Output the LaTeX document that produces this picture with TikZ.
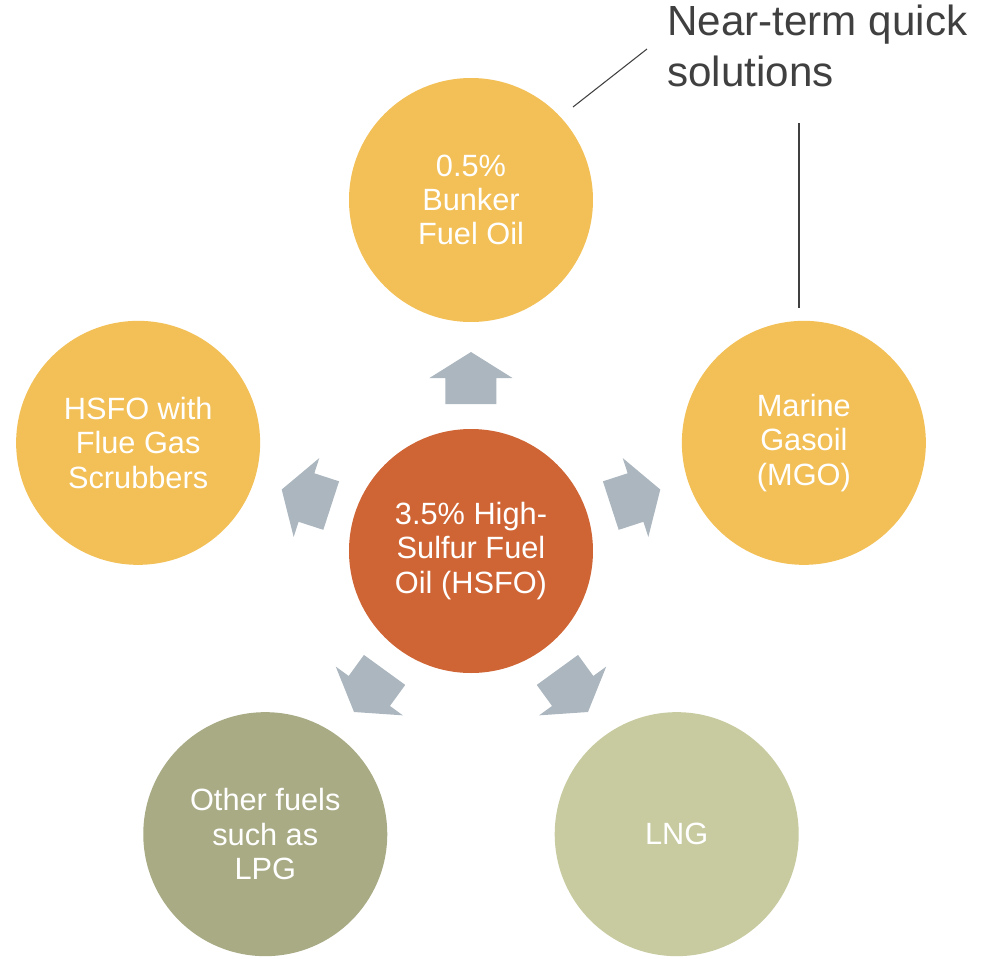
\documentclass[tikz,border=0pt]{standalone}
\usepackage{fontspec}
\setmainfont{Liberation Sans}
\usepackage{xcolor}
\definecolor{hsfored}{RGB}{207,101,53}
\definecolor{fuelyellow}{RGB}{242,192,87}
\definecolor{fuelolive}{RGB}{169,171,133}
\definecolor{fuelsage}{RGB}{200,203,160}
\definecolor{arrowgray}{RGB}{171,182,191}
\definecolor{labelgray}{RGB}{64,64,64}
\tikzset{
	fuel/.style={circle, minimum size=244*0.02cm, inner sep=0pt, text=white, align=center,
		font=\fontsize{17.5}{19.5}\selectfont},
	leader/.style={draw=labelgray, line width=0.6pt}
}

\begin{document}
\begin{tikzpicture}[x=0.02cm, y=0.02cm]
	
		\useasboundingbox (-471,-407) rectangle (517,551);
		
		% Centre circle
		\node[fuel, fill=hsfored] (hsfo) at (0,0) {3.5\% High-\\Sulfur Fuel\\Oil (HSFO)};
		
		% Outer circles
		\node[fuel, fill=fuelyellow] (bunker) at (90:351) {0.5\%\\Bunker\\Fuel Oil};
		\node[fuel, fill=fuelyellow] (mgo) at (18:350) {Marine\\Gasoil\\(MGO)};
		\node[fuel, fill=fuelyellow] (scrub) at (162:350) {HSFO with\\Flue Gas\\Scrubbers};
		\node[fuel, fill=fuelolive] (lpg) at (234:350) {Other fuels\\such as\\LPG};
		\node[fuel, fill=fuelsage] (lng) at (306:350) {LNG};
		
		% Block arrows
		\foreach \a in {90,18,162,234,306}
			\fill[arrowgray, rotate=\a] (147,-25.5) -- (173,-25.5) -- (173,-41.5) -- (199,0)
				-- (173,41.5) -- (173,25.5) -- (147,25.5) -- cycle;
		
		% Label and leaders
		\node[anchor=north west, inner sep=0pt, align=left, text=labelgray,
			font=\fontsize{24}{29}\selectfont] (quick) at (196,546) {Near-term quick\\solutions};
		\coordinate (leadA) at (102,444);
		\coordinate (leadAend) at (176,502);
		\coordinate (leadB) at (328,428);
		\coordinate (leadBend) at (328,243);
		\draw[leader] (leadA) -- (leadAend);
		\draw[leader] (leadB) -- (leadBend);
		
	\end{tikzpicture}
\end{document}
